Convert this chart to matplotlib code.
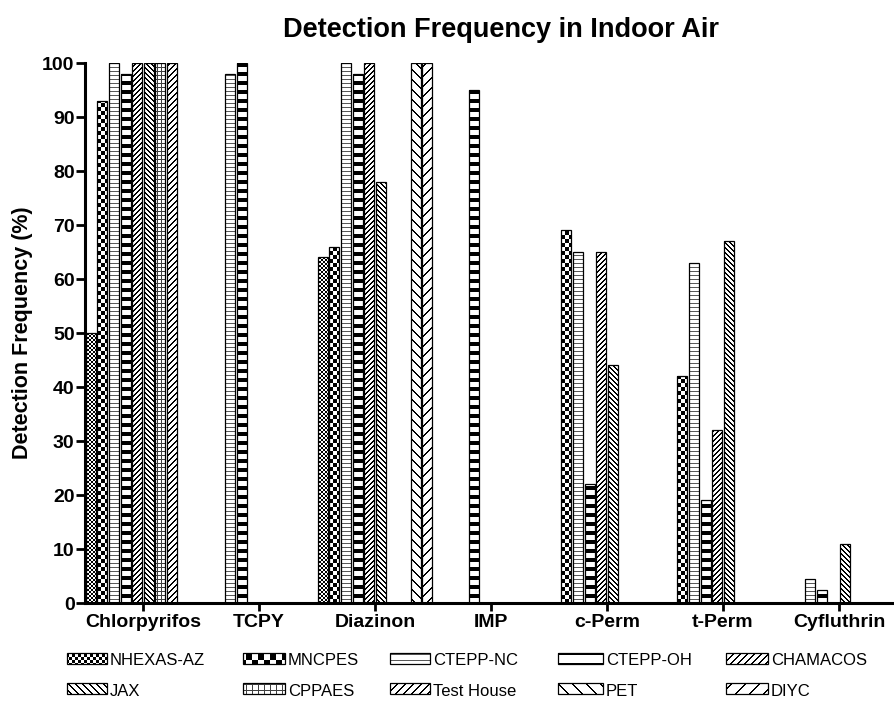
import numpy as np
import matplotlib
matplotlib.use("Agg")
import matplotlib.pyplot as plt
from matplotlib.patches import Rectangle, PathPatch
from matplotlib.path import Path

# data (missing bars are nan)
categories = ["Chlorpyrifos", "TCPY", "Diazinon", "IMP", "c-Perm", "t-Perm", "Cyfluthrin"]
studies = ["NHEXAS-AZ", "MNCPES", "CTEPP-NC", "CTEPP-OH", "CHAMACOS",
           "JAX", "CPPAES", "Test House", "PET", "DIYC"]
nan = np.nan
nhexas_az = [50, nan, 64, nan, nan, nan, nan]
mncpes = [93, nan, 66, nan, 69, 42, nan]
ctepp_nc = [100, 98, 100, nan, 65, 63, 4.5]
ctepp_oh = [98, 100, 98, 95, 22, 19, 2.5]
chamacos = [100, nan, 100, nan, 65, 32, nan]
jax = [100, nan, 78, nan, 44, 67, 11]
cppaes = [100, nan, nan, nan, nan, nan, nan]
test_house = [100, nan, nan, nan, nan, nan, nan]
pet = [nan, nan, 100, nan, nan, nan, nan]
diyc = [nan, nan, 100, nan, nan, nan, nan]
values = [nhexas_az, mncpes, ctepp_nc, ctepp_oh, chamacos,
          jax, cppaes, test_house, pet, diyc]
yticks = list(range(0, 101, 10))

# pixel fill pattern for each study (like the Prism export)
patterns = ["fine_checker", "checker", "hlines", "bands", "fwd5",
            "back5", "grid", "fwd6", "back10", "fwd10"]

W, H, DPI = 895, 703, 100
plt.rcParams['font.family'] = ['Liberation Sans', 'DejaVu Sans']


def pattern(kind, i, j, s=1.0):
    p = lambda v: max(1, int(round(v * s)))
    if kind == "fine_checker":
        c = p(2)
        return ((i // c + j // c) % 2).astype(float)
    if kind == "checker":
        c = p(4)
        return ((i // c + j // c) % 2).astype(float)
    if kind == "hlines":
        return np.where(i % p(4) == 0, 0.35, 1.0)
    if kind == "bands":
        per = p(9)
        return np.where(i % per < (per * 4) // 9, 0.0, 1.0)
    if kind == "grid":
        per = p(4)
        return np.where((i % per == 0) | (j % per == 0), 0.25, 1.0)
    per = p(int(kind[-2:]) if kind[-2:].isdigit() else int(kind[-1]))
    w = 2
    if kind.startswith("fwd"):
        return np.where((i + j) % per < w, 0.0, 1.0)
    return np.where((j - i) % per < w, 0.0, 1.0)


def fill_pattern(ax, rects, kind, extent, shape, s=1.0, zorder=2):
    rects = [r for r in rects if np.isfinite(r.get_height())]
    if not rects:
        return
    i, j = np.indices(shape)
    arr = pattern(kind, i, j, s)
    im = ax.imshow(arr, cmap='gray', vmin=0, vmax=1, extent=extent, origin='upper',
                   interpolation='nearest', aspect='auto', zorder=zorder)
    paths = [r.get_patch_transform().transform_path(r.get_path()) for r in rects]
    clip = PathPatch(Path.make_compound_path(*paths), transform=ax.transData,
                     facecolor='none', edgecolor='none')
    im.set_clip_path(clip)


fig = plt.figure(figsize=(W / DPI, H / DPI), dpi=DPI)
ax_l, ax_b, ax_w, ax_h = 85, 100, 812, 540
ax = fig.add_axes([ax_l / W, ax_b / H, ax_w / W, ax_h / H])

xlim = (-0.5, len(categories) - 0.5)
x = np.arange(len(categories))
for k, (name, vals) in enumerate(zip(studies, values)):
    bars = ax.bar(x - 0.45 + 0.1 * k, vals, 0.086, facecolor='none',
                  edgecolor='black', linewidth=0.9, zorder=3, label=name)
    fill_pattern(ax, bars.patches, patterns[k], (xlim[0], xlim[1], 0, 100), (ax_h, ax_w))

ax.set_xlim(xlim)
ax.set_ylim(0, 100)
ax.set_xticks(x)
ax.set_xticklabels(categories, fontsize=14, fontweight='bold')
ax.set_yticks(yticks)
ax.set_yticklabels([str(t) for t in yticks], fontsize=14, fontweight='bold')
ax.spines['top'].set_visible(False)
ax.spines['right'].set_visible(False)
for s in ['left', 'bottom']:
    ax.spines[s].set_linewidth(2.2)
ax.tick_params(axis='x', length=6, width=2.0, pad=2)
ax.tick_params(axis='y', length=6.5, width=2.0, pad=1)

fig.text(501 / W, 1 - 37 / H, "Detection Frequency in Indoor Air", fontsize=19.5,
         fontweight='bold', ha='center', va='baseline')
fig.text(23 / W, 1 - 333 / H, "Detection Frequency (%)", fontsize=15.5,
         fontweight='bold', rotation=90, ha='center', va='center')

# legend below the axes, drawn in pixel coordinates
lax = fig.add_axes([0, 0, 1, 1])
lax.axis('off')
leg_left = [67, 243, 390, 558, 726]
leg_width = [40, 42, 40, 45, 42]
leg_top = [653, 683]
leg_base = [665, 696]
for k, name in enumerate(studies):
    row, col = divmod(k, 5)
    r = Rectangle((leg_left[col], leg_top[row]), leg_width[col], 11, facecolor='none',
                  edgecolor='black', linewidth=0.9, zorder=3)
    lax.add_patch(r)
    fill_pattern(lax, [r], patterns[k], (0, W, H, 0), (H, W), s=1.4)
    lax.text(leg_left[col] + leg_width[col] + 3, leg_base[row], name, fontsize=12,
             ha='left', va='baseline')
lax.set_xlim(0, W)
lax.set_ylim(H, 0)

fig.savefig("out.png", dpi=DPI)
